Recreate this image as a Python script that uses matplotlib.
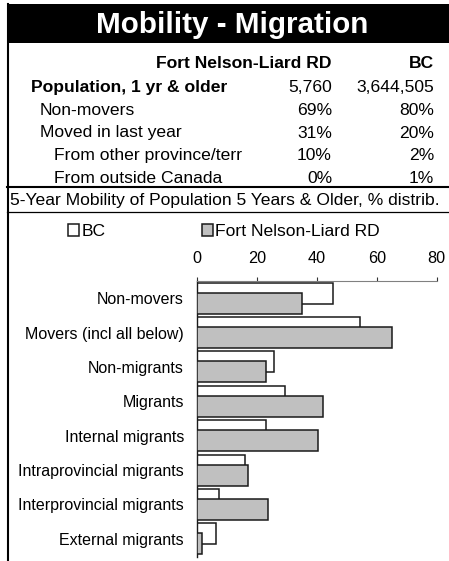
import numpy as np
import matplotlib
matplotlib.use("Agg")
import matplotlib.pyplot as plt
from matplotlib.patches import Rectangle
from matplotlib.lines import Line2D

plt.rcParams['font.family'] = ['Liberation Sans', 'DejaVu Sans']

# summary table
title = "Mobility - Migration"
col_heads = ["Fort Nelson-Liard RD", "BC"]
row_labels = ["Population, 1 yr & older", "Non-movers", "Moved in last year",
              "From other province/terr", "From outside Canada"]
row_fn = ["5,760", "69%", "31%", "10%", "0%"]
row_bc = ["3,644,505", "80%", "20%", "2%", "1%"]
subtitle = "5-Year Mobility of Population 5 Years & Older, % distrib."

# bar chart
categories = ["Non-movers", "Movers (incl all below)", "Non-migrants", "Migrants",
              "Internal migrants", "Intraprovincial migrants",
              "Interprovincial migrants", "External migrants"]
bc_vals = [45.5, 54.5, 25.5, 29.2, 23.1, 15.8, 7.2, 6.2]
fn_vals = [35.1, 64.9, 22.9, 42.0, 40.3, 16.8, 23.7, 1.7]

W, H = 449, 561
fig = plt.figure(figsize=(W / 100, H / 100), dpi=100)


def fx(x):
    return x / W


def fy(y):
    return 1 - y / H


# black title band and frame lines
fig.add_artist(Rectangle((fx(7.3), fy(43.3)), fx(449) - fx(7.3), fy(4) - fy(43.3),
                         transform=fig.transFigure, facecolor='black', edgecolor='none'))
fig.text(fx(232), fy(33), title, color='white', fontsize=21.3, fontweight='bold',
         ha='center', va='baseline')
fig.add_artist(Line2D([fx(8.3), fx(8.3)], [fy(4), fy(561)], color='black', lw=1.5,
                      transform=fig.transFigure))
fig.add_artist(Line2D([fx(7.3), fx(449)], [fy(187.3), fy(187.3)], color='black', lw=1.5,
                      transform=fig.transFigure))
fig.add_artist(Line2D([fx(7.3), fx(449)], [fy(211.7), fy(211.7)], color='black', lw=0.9,
                      transform=fig.transFigure))

# table text
fs = 12.6
fig.text(fx(332), fy(68.3), col_heads[0], fontsize=fs, fontweight='bold', ha='right', va='baseline')
fig.text(fx(434), fy(68.3), col_heads[1], fontsize=fs, fontweight='bold', ha='right', va='baseline')
baselines = [91.7, 115, 137.5, 160, 182.7]
indents = [31, 40, 40, 54, 54]
for i, lab in enumerate(row_labels):
    fig.text(fx(indents[i]), fy(baselines[i]), lab, fontsize=fs,
             fontweight='bold' if i == 0 else 'normal', ha='left', va='baseline')
    fig.text(fx(332), fy(baselines[i]), row_fn[i], fontsize=fs, ha='right', va='baseline')
    fig.text(fx(434), fy(baselines[i]), row_bc[i], fontsize=fs, ha='right', va='baseline')
fig.text(fx(10), fy(205.5), subtitle, fontsize=fs, ha='left', va='baseline')

# chart
ax = fig.add_axes([fx(197.3), fy(557), fx(436.7) - fx(197.3), (557 - 281) / H])
y = np.arange(len(categories))
off, h = 0.145, 0.61
bc_bars = ax.barh(y - off, bc_vals, height=h, color='white', edgecolor='#1a1a1a',
                  linewidth=1.1, label='BC', zorder=2)
fn_bars = ax.barh(y + off, fn_vals, height=h, color='#c0c0c0', edgecolor='#1a1a1a',
                  linewidth=1.1, label='Fort Nelson-Liard RD', zorder=3)

ax.set_xlim(0, 80)
ax.set_ylim(7.53, -0.5)
ax.set_xticks([0, 20, 40, 60, 80])
ax.xaxis.tick_top()
ax.tick_params(axis='x', direction='out', length=3, width=0.8, color='#333333',
               labelsize=11.7, pad=7.5)
ax.set_yticks(y, categories)
ax.tick_params(axis='y', length=0, labelsize=11.5, pad=9.5)
for s in ['right', 'bottom']:
    ax.spines[s].set_visible(False)
ax.spines['top'].set_color('#808080')
ax.spines['top'].set_linewidth(0.8)
ax.spines['left'].set_color('#1a1a1a')
ax.spines['left'].set_linewidth(1.0)

fig.legend(handles=[bc_bars, fn_bars], loc='center left',
           bbox_to_anchor=(fx(68.3), fy(231.7)), ncol=2, frameon=False,
           fontsize=fs, borderpad=0, borderaxespad=0, handlelength=0.63,
           handleheight=0.63, handletextpad=0.12, columnspacing=5.5)

fig.savefig('out.png', dpi=100)
